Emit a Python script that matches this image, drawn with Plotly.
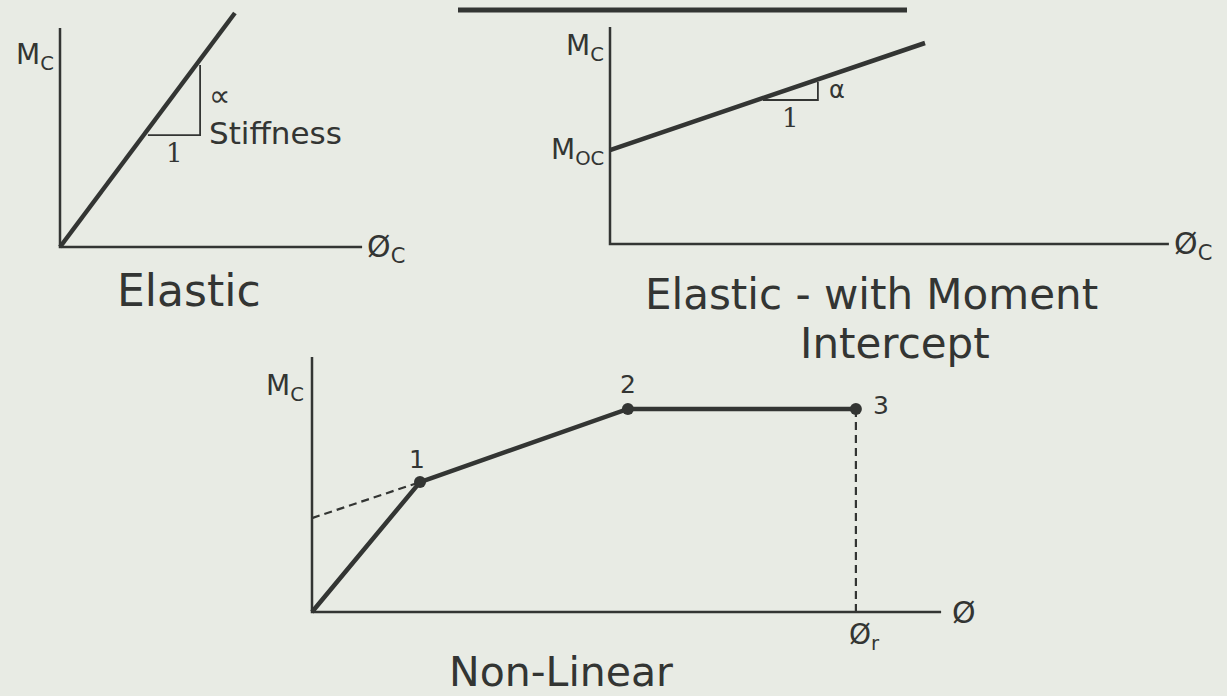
import plotly.graph_objects as go

W, H = 1227, 696
BG = "#e8ebe4"
INK = "#333533"
SANS = "DejaVu Sans"
SERIF = "DejaVu Serif"

# ---------------- data (diagram units) ----------------
# Panel 1: Elastic
elastic_phi = [0, 5.83]
elastic_M = [0, 7.8]
elastic_tri_phi = [2.93, 4.67, 4.67]
elastic_tri_M = [3.73, 3.73, 6.07]
elastic_axis = [10.07, 7.3]          # x-axis length, y-axis length

# Panel 2: Elastic with moment intercept
moment_phi = [0, 10.5]
moment_M = [3.13, 6.7]
moment_tri_phi = [5.1, 6.93, 6.93]
moment_tri_M = [4.8, 4.8, 5.4]
moment_axis = [18.63, 7.23]

# Panel 3: Non-linear
nonlin_phi = [0, 3.6, 10.53, 18.13]
nonlin_M = [0, 4.33, 6.77, 6.77]
nonlin_ext_phi = [0, 3.6]
nonlin_ext_M = [3.13, 4.33]
nonlin_point_labels = ["1", "2", "3"]
nonlin_axis = [20.97, 8.5]

# ---------------- panel frames: origin px, px per unit, bounding box px ----------------
panels = [
    dict(origin=(60, 247), scale=30, box=(0, 0, 440, 330)),
    dict(origin=(610, 244), scale=30, box=(450, 0, 1227, 349)),
    dict(origin=(312, 612), scale=30, box=(230, 350, 1010, 696)),
]

fig = go.Figure()
layout_axes = {}
for i, p in enumerate(panels, start=1):
    ox, oy = p["origin"]
    s = p["scale"]
    x0, y0, x1, y1 = p["box"]
    sfx = "" if i == 1 else str(i)
    layout_axes["xaxis" + sfx] = dict(domain=[x0 / W, x1 / W], range=[(x0 - ox) / s, (x1 - ox) / s],
                                      visible=False, fixedrange=True,
                                      anchor="y" + sfx)
    layout_axes["yaxis" + sfx] = dict(domain=[1 - y1 / H, 1 - y0 / H], range=[(oy - y1) / s, (oy - y0) / s],
                                      visible=False, fixedrange=True,
                                      anchor="x" + sfx)


def axes_trace(length, xa, ya, width):
    return go.Scatter(x=[length[0], 0, 0], y=[0, 0, length[1]], mode="lines",
                      line=dict(color=INK, width=width), xaxis=xa, yaxis=ya,
                      hoverinfo="skip", showlegend=False)


def line(x, y, xa, ya, width, dash=None, mode="lines", msize=0):
    return go.Scatter(x=x, y=y, mode=mode, xaxis=xa, yaxis=ya,
                      line=dict(color=INK, width=width, dash=dash),
                      marker=dict(color=INK, size=msize),
                      hoverinfo="skip", showlegend=False)


# Panel 1
fig.add_trace(axes_trace(elastic_axis, "x", "y", 2.5))
fig.add_trace(line(elastic_phi, elastic_M, "x", "y", 4.5))
fig.add_trace(line(elastic_tri_phi, elastic_tri_M, "x", "y", 1.8))

# Panel 2
fig.add_trace(axes_trace(moment_axis, "x2", "y2", 2.5))
fig.add_trace(line(moment_phi, moment_M, "x2", "y2", 4.5))
fig.add_trace(line(moment_tri_phi, moment_tri_M, "x2", "y2", 1.8))

# Panel 3
fig.add_trace(axes_trace(nonlin_axis, "x3", "y3", 2.5))
fig.add_trace(line(nonlin_ext_phi, nonlin_ext_M, "x3", "y3", 2.2, dash="8px,5px"))
fig.add_trace(line([nonlin_phi[-1], nonlin_phi[-1]], [0, nonlin_M[-1]], "x3", "y3", 2.2, dash="8px,5px"))
fig.add_trace(line(nonlin_phi, nonlin_M, "x3", "y3", 4.5))
fig.add_trace(line(nonlin_phi[1:], nonlin_M[1:], "x3", "y3", 0, mode="markers", msize=12))

ann = []


def A(text, x, y, xr, yr, size, xanchor="center", yanchor="middle", family=SANS):
    ann.append(dict(text=text, x=x, y=y, xref=xr, yref=yr, showarrow=False,
                    xanchor=xanchor, yanchor=yanchor,
                    font=dict(family=family, size=size, color=INK)))


# Panel 1 labels
A("M<sub>C</sub>", -0.12, 6.35, "x", "y", 28, xanchor="right")
A("∝", 5.3, 5.05, "x", "y", 30)
A("Stiffness", 4.9, 3.8, "x", "y", 31, xanchor="left")
A("1", 3.83, 3.15, "x", "y", 26, family=SERIF)
A("Ø<sub>C</sub>", 10.15, -0.05, "x", "y", 30, xanchor="left")
A("Elastic", 4.3, -1.45, "x", "y", 44)

# Panel 2 labels
A("M<sub>C</sub>", -0.12, 6.55, "x2", "y2", 28, xanchor="right")
A("M<sub>OC</sub>", -0.12, 3.1, "x2", "y2", 28, xanchor="right")
A("α", 7.57, 5.13, "x2", "y2", 24)
A("1", 6.0, 4.2, "x2", "y2", 26, family=SERIF)
A("Ø<sub>C</sub>", 18.72, -0.05, "x2", "y2", 30, xanchor="left")
A("Elastic - with Moment", 8.73, -1.67, "x2", "y2", 42)
A("Intercept", 9.5, -3.3, "x2", "y2", 42)

# Panel 3 labels
A("M<sub>C</sub>", -0.2, 7.5, "x3", "y3", 28, xanchor="right")
offsets = [(-0.1, 0.75), (0.0, 0.8), (0.5, 0.1)]
for (px, pm, lab, (dx, dy)) in zip(nonlin_phi[1:], nonlin_M[1:], nonlin_point_labels, offsets):
    A(lab, px + dx, pm + dy, "x3", "y3", 25, xanchor="left" if lab == "3" else "center")
A("Ø", 21.25, 0.0, "x3", "y3", 30, xanchor="left")
A("Ø<sub>r</sub>", nonlin_phi[-1] + 0.3, -0.8, "x3", "y3", 28)
A("Non-Linear", 8.3, -2.0, "x3", "y3", 41)

fig.update_layout(
    width=W, height=H,
    margin=dict(l=0, r=0, t=0, b=0),
    paper_bgcolor=BG, plot_bgcolor="rgba(0,0,0,0)",
    showlegend=False,
    annotations=ann,
    shapes=[dict(type="line", xref="paper", yref="paper",
                 x0=458 / W, x1=907 / W, y0=1 - 10 / H, y1=1 - 10 / H,
                 line=dict(color=INK, width=5))],
    **layout_axes,
)

fig.write_html("out.html",
               config={"displayModeBar": False, "staticPlot": True},
               post_script="document.body.style.margin='0px';document.body.style.overflow='hidden';")
